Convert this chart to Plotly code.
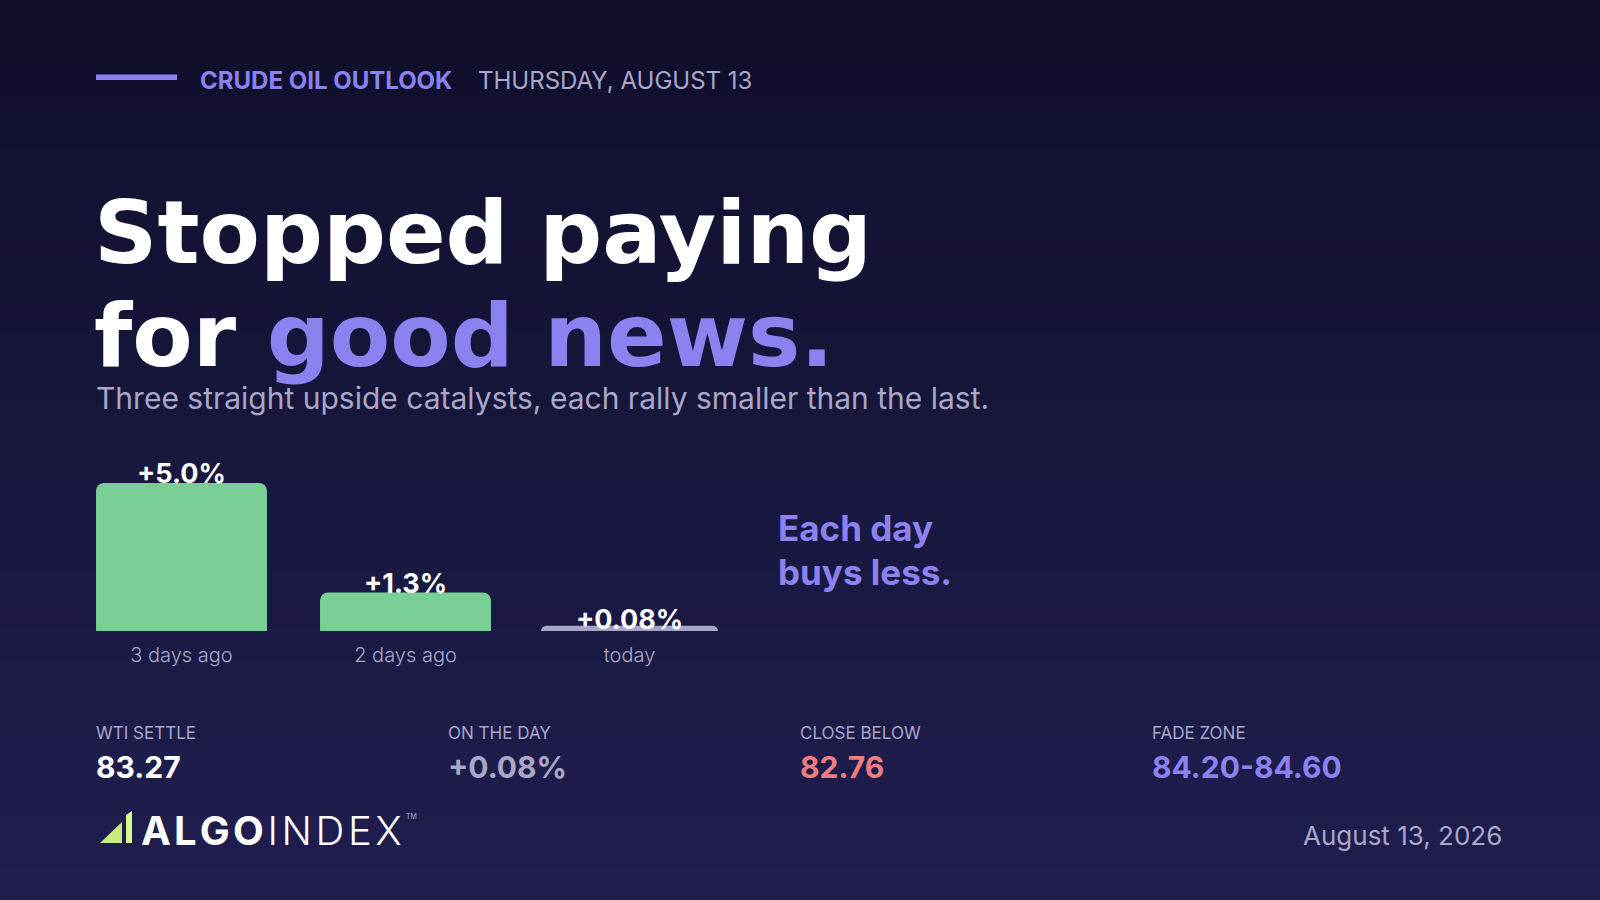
import plotly.graph_objects as go

# chart data
days = ["3 days ago", "2 days ago", "today"]
rally_pct = [5.0, 1.3, 0.08]
rally_labels = ["+5.0%", "+1.3%", "+0.08%"]

stat_names = ["WTI SETTLE", "ON THE DAY", "CLOSE BELOW", "FADE ZONE"]
stat_values = ["83.27", "+0.08%", "82.76", "84.20-84.60"]

W, H = 1600, 900
FONT = "Inter"
HEAD_FONT = "DejaVu Sans"
PURPLE = "#8b82f0"
MUTED = "#a9a6c8"
GREEN = "#79cf96"
GREY_BAR = "#a8a4c8"
stat_colors = ["#ffffff", MUTED, "#ef7d7b", PURPLE]


def px(x):
    return x / W


def py(y):
    return 1 - y / H


fig = go.Figure()

fig.add_trace(go.Bar(
    x=days,
    y=rally_pct,
    marker=dict(color=[GREEN, GREEN, GREY_BAR], cornerradius=8,
                line=dict(color=[GREEN, GREEN, GREY_BAR], width=[0, 0, 6])),
    hoverinfo="skip",
))

# labels above the bars
for d, v, lab in zip(days, rally_pct, rally_labels):
    fig.add_annotation(x=d, y=v, xref="x", yref="y", text=lab, showarrow=False,
                       yanchor="bottom", yshift=-9,
                       font=dict(family=FONT, size=27, color="white", weight=700))

# background gradient, top to bottom
top = (15, 15, 43)
bot = (32, 30, 79)
n = 60
shapes = []
for i in range(n):
    t = i / (n - 1)
    c = tuple(round(top[k] + (bot[k] - top[k]) * t) for k in range(3))
    shapes.append(dict(type="rect", xref="paper", yref="paper",
                       x0=0, x1=1, y0=1 - i / n, y1=1 - (i + 1) / n - 0.002,
                       fillcolor="rgb(%d,%d,%d)" % c, line_width=0, layer="below"))

# header accent line
shapes.append(dict(type="rect", xref="paper", yref="paper",
                   x0=px(96), x1=px(177), y0=py(74.5), y1=py(80), fillcolor=PURPLE,
                   line_width=0))

# logo mark
def pth(pts):
    return "M " + " L ".join("%.5f,%.5f" % (px(a), py(b)) for a, b in pts) + " Z"

shapes.append(dict(type="path", xref="paper", yref="paper",
                   path=pth([(100, 843), (122, 822), (122, 843)]),
                   fillcolor="#c9ec7c", line_width=0))
shapes.append(dict(type="path", xref="paper", yref="paper",
                   path=pth([(126, 815), (132, 811), (132, 843), (126, 843)]),
                   fillcolor="#d8f590", line_width=0))


def txt(x, y, s, size, color, weight=400, xanchor="left", family=FONT):
    fig.add_annotation(x=px(x), y=py(y), xref="paper", yref="paper", text=s,
                       showarrow=False, xanchor=xanchor, yanchor="middle",
                       font=dict(family=family, size=size, color=color, weight=weight))


txt(198, 81, "CRUDE OIL OUTLOOK", 24, PURPLE, 700)
txt(476, 81, "THURSDAY, AUGUST 13", 24, MUTED, 400)

txt(92, 232, "Stopped paying", 88, "white", 700, family=HEAD_FONT)
txt(92, 336, "for <span style='color:%s'>good news.</span>" % PURPLE, 88, "white", 700,
    family=HEAD_FONT)
txt(94, 398, "Three straight upside catalysts, each rally smaller than the last.", 30, MUTED, 400)

txt(776, 528, "Each day", 35, PURPLE, 700)
txt(776, 572, "buys less.", 35, PURPLE, 700)

stat_x = [94, 446, 798, 1150]
for sx, name, val, col in zip(stat_x, stat_names, stat_values, stat_colors):
    txt(sx, 733, name, 17, MUTED, 400)
    txt(sx, 767, val, 30, col, 700)

hs = "\u200a"
txt(139, 830, "<b>" + hs.join("ALGO") + "</b>" + hs + hs.join("INDEX"), 40, "white", 300)
txt(404, 816, "TM", 7, MUTED, 400)
txt(1504, 835, "August 13, 2026", 26, MUTED, 400, xanchor="right")

fig.update_layout(
    width=W, height=H,
    margin=dict(l=0, r=0, t=0, b=0),
    paper_bgcolor="#17163a",
    plot_bgcolor="rgba(0,0,0,0)",
    shapes=shapes,
    showlegend=False,
    bargap=0.237,
    xaxis=dict(domain=[px(69.5), px(741.5)], range=[-0.5, 2.5], showgrid=False,
               zeroline=False, showline=False, ticks="", ticklabelstandoff=10,
               tickfont=dict(family=FONT, size=20, color=MUTED, weight=300),
               fixedrange=True),
    yaxis=dict(domain=[py(631), py(483)], range=[0, 5.0], visible=False,
               fixedrange=True),
)

fig.write_html("out.html", config={"displayModeBar": False},
               post_script="document.body.style.margin='0';")
